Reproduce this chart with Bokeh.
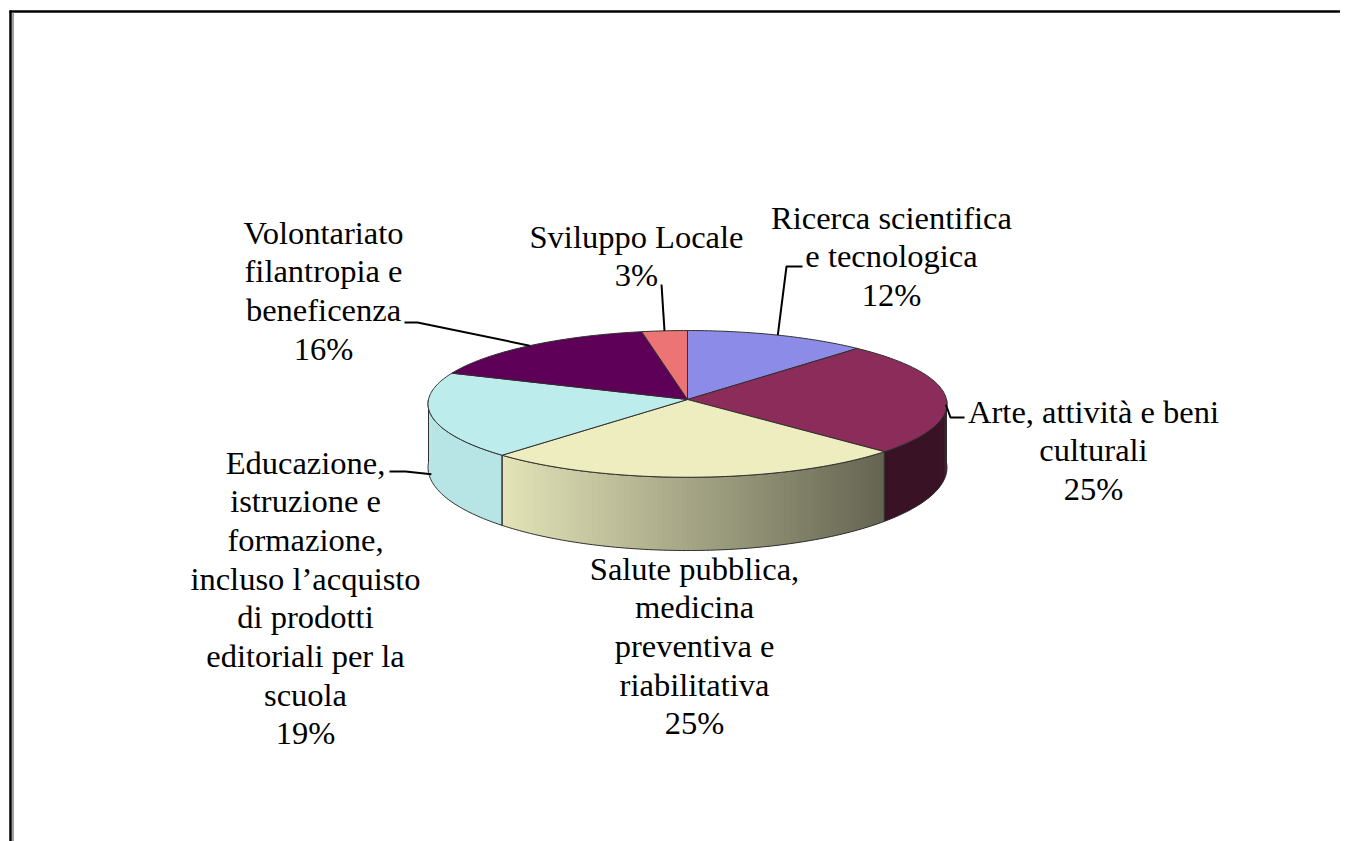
import numpy as np
from bokeh.plotting import figure
from bokeh.models import Range1d
from bokeh.embed import file_html
from bokeh.resources import INLINE
from bokeh.core.properties import value

# ---------------- data ----------------
categories = [
    "Ricerca scientifica e tecnologica",
    "Arte, attività e beni culturali",
    "Salute pubblica, medicina preventiva e riabilitativa",
    "Educazione, istruzione e formazione, incluso l’acquisto di prodotti editoriali per la scuola",
    "Volontariato filantropia e beneficenza",
    "Sviluppo Locale",
]
shares = [12, 25, 25, 19, 16, 3]
label_lines = [
    ["Ricerca scientifica", "e tecnologica"],
    ["Arte, attività e beni", "culturali"],
    ["Salute pubblica,", "medicina", "preventiva e", "riabilitativa"],
    ["Educazione,", "istruzione e", "formazione,", "incluso l’acquisto",
     "di prodotti", "editoriali per la", "scuola"],
    ["Volontariato", "filantropia e", "beneficenza"],
    ["Sviluppo Locale"],
]
top_colors = ["#8C8CE8", "#8B2C5A", "#EDEDC0", "#BDECEC", "#5E0058", "#EC7474"]

# ---------------- layout / style ----------------
W, H = 1340, 841
X0, Y0 = 0, 0              # page px shown at the canvas' top-left corner
CX, CY = 687.0, 399.0      # projected pie centre (page px)
A, B = 259.0, 73.1         # horizontal / vertical radii
K = 0.06                   # perspective factor for top face
D, K2 = 63.0, 0.14         # side depth and its perspective factor
EDGE = "#303030"
FONT = value("Liberation Serif")
FSIZE = "32.5px"
LINE_H = 38.7
label_pos = [(891, 217), (1093, 411), (694, 568), (305, 462), (323, 232), (636, 236)]
# leader: (points from label toward pie, depth fraction of pie anchor)
leaders = {
    0: ([(802, 266), (786, 266)], 0.0),
    1: ([(964, 417), (950, 417)], 0.12),
    3: ([(389, 471), (405, 471)], 0.9),
    4: ([(404, 322), (417, 322)], 0.0),
    5: ([(661, 284)], 0.0),
}


def proj(theta, depth_frac=0.0):
    t = np.radians(theta)
    u, v = np.sin(t), np.cos(t)
    w = 1 + K * v
    x = CX + A * u / w
    y = CY - B * v / w + depth_frac * D / (1 + K2 * v)
    return x, y


def shade(hex_color, f):
    r, g, b = (int(hex_color[i:i + 2], 16) for i in (1, 3, 5))
    return "#%02x%02x%02x" % tuple(int(max(0, min(255, round(c * f)))) for c in (r, g, b))


total = float(sum(shares))
ends = np.cumsum([s / total * 360.0 for s in shares])
starts = np.concatenate([[0.0], ends[:-1]])

p = figure(width=W, height=H, x_range=Range1d(X0, X0 + W), y_range=Range1d(Y0 + H, Y0),
           output_backend="svg", toolbar_location=None, min_border=0,
           x_axis_type=None, y_axis_type=None)
p.grid.visible = False
p.outline_line_color = None
p.background_fill_color = "white"
p.border_fill_color = "white"

# frame
p.line([9, X0 + W], [11, 11], line_color="black", line_width=2.5)
p.line([10, 10], [10, Y0 + H], line_color="black", line_width=2.5)
p.line([12.5, 12.5], [12, Y0 + H], line_color="#808080", line_width=1.5)

# sides (front half only), with shading strips
sx, sy, sc = [], [], []
outlines_x, outlines_y = [], []
for i, (s0, s1) in enumerate(zip(starts, ends)):
    a0, a1 = max(s0, 90.0), min(s1, 270.0)
    if a1 <= a0:
        continue
    n = max(2, int(np.ceil(a1 - a0)))
    th = np.linspace(a0, a1, n + 1)
    for ta, tb in zip(th[:-1], th[1:]):
        tb2 = min(tb + 0.8, a1)
        xa, ya = proj(ta)
        xb, yb = proj(tb2)
        xa2, ya2 = proj(ta, 1.0)
        xb2, yb2 = proj(tb2, 1.0)
        sx.append([xa, xb, xb2, xa2])
        sy.append([ya, yb, yb2, ya2])
        tm = np.radians((ta + tb) / 2)
        f = float(np.clip(0.70 - 0.384 * np.sin(tm), 0.42, 0.97))
        sc.append(shade(top_colors[i], f))
    tx, ty = proj(th)
    bx, by = proj(th[::-1], 1.0)
    outlines_x.append(list(tx) + list(bx))
    outlines_y.append(list(ty) + list(by))

p.patches(sx, sy, fill_color=sc, line_color=None)
p.patches(outlines_x, outlines_y, fill_color=None, line_color=EDGE, line_width=1)

# top faces
tx_all, ty_all = [], []
for s0, s1 in zip(starts, ends):
    n = max(2, int(np.ceil(s1 - s0)))
    th = np.linspace(s0, s1, n + 1)
    ax, ay = proj(th)
    tx_all.append([CX] + list(ax))
    ty_all.append([CY] + list(ay))
p.patches(tx_all, ty_all, fill_color=top_colors, line_color=EDGE, line_width=1)

# leader lines
for i, (pts, dfrac) in leaders.items():
    mid = (starts[i] + ends[i]) / 2
    axp, ayp = proj(mid, dfrac)
    xs = [pt[0] for pt in pts] + [float(axp)]
    ys = [pt[1] for pt in pts] + [float(ayp)]
    p.line(xs, ys, line_color="black", line_width=2)

# labels
lx, ly, lt = [], [], []
for i, lines in enumerate(label_lines):
    x0, y0 = label_pos[i]
    full = lines + [f"{shares[i]}%"]
    for j, txt in enumerate(full):
        lx.append(x0)
        ly.append(y0 + j * LINE_H)
        lt.append(txt)
p.text(x=lx, y=ly, text=lt, text_font=FONT, text_font_size=FSIZE,
       text_align="center", text_baseline="middle", text_color="black")

open("out.html", "w").write(file_html(p, INLINE))
